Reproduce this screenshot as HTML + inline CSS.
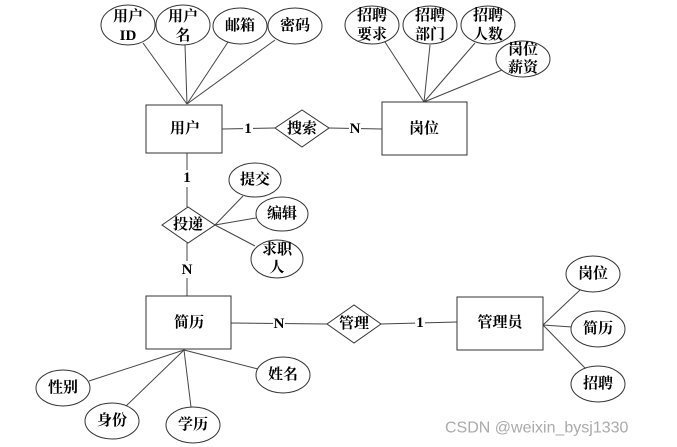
<!DOCTYPE html>
<html><head><meta charset="utf-8"><style>
html,body{margin:0;padding:0;background:#fff;}
svg{display:block;}
text{font-family:"Liberation Serif","Noto Serif CJK SC","Noto Sans CJK SC",serif;font-weight:bold;font-size:15px;fill:#000;text-anchor:middle;dominant-baseline:central;}
.w{font-family:"Liberation Sans",sans-serif;font-weight:normal;font-size:16px;fill:#aaa;text-anchor:start;}
</style></head><body>
<svg width="677" height="447" viewBox="0 0 677 447" xmlns="http://www.w3.org/2000/svg">
<g stroke="#444" stroke-width="1" fill="none">
<line x1="187" y1="104" x2="143" y2="43"/><line x1="187" y1="104" x2="185" y2="45"/><line x1="187" y1="104" x2="228" y2="42"/><line x1="187" y1="104" x2="275" y2="40"/>
<line x1="424" y1="102" x2="385" y2="42"/><line x1="424" y1="102" x2="430" y2="45"/><line x1="424" y1="102" x2="475" y2="43"/><line x1="424" y1="102" x2="502" y2="70"/>
<line x1="222" y1="129" x2="275" y2="128"/><line x1="329" y1="128" x2="382" y2="129"/>
<line x1="187" y1="153" x2="187" y2="207"/><line x1="187" y1="243" x2="187" y2="296"/>
<line x1="215" y1="225" x2="243" y2="196"/><line x1="215" y1="225" x2="256" y2="218"/><line x1="215" y1="225" x2="255" y2="246"/>
<line x1="231" y1="323" x2="327" y2="324"/><line x1="381" y1="324" x2="457" y2="322"/>
<line x1="543" y1="325" x2="580" y2="290"/><line x1="543" y1="325" x2="572" y2="327"/><line x1="543" y1="325" x2="585" y2="368"/>
<line x1="184" y1="350" x2="89" y2="381"/><line x1="184" y1="350" x2="125" y2="407"/><line x1="184" y1="350" x2="191" y2="407"/><line x1="184" y1="350" x2="258" y2="369"/>
</g>
<g stroke="#333" stroke-width="1" fill="#fff">
<rect x="146" y="105" width="76" height="48"/>
<rect x="382" y="102" width="85" height="53"/>
<rect x="146" y="296" width="85" height="53"/>
<rect x="457" y="297" width="86" height="53"/>
<polygon points="275,128 302,110 329,128 302,147"/>
<polygon points="162,225 188,207 215,225 188,243"/>
<polygon points="327,324 354,305 381,324 354,343"/>
<ellipse cx="128" cy="25" rx="27" ry="20"/><ellipse cx="183" cy="25" rx="27" ry="20"/><ellipse cx="240" cy="26" rx="27" ry="18"/><ellipse cx="295" cy="26" rx="27" ry="18"/>
<ellipse cx="372" cy="25" rx="27" ry="19"/><ellipse cx="430" cy="25" rx="27" ry="19"/><ellipse cx="488" cy="25" rx="27" ry="19"/><ellipse cx="523" cy="59" rx="27" ry="18"/>
<ellipse cx="255" cy="180" rx="26" ry="17"/><ellipse cx="282" cy="214" rx="26" ry="17"/><ellipse cx="277" cy="259" rx="26" ry="19"/>
<ellipse cx="593" cy="274" rx="27" ry="18"/><ellipse cx="598" cy="329" rx="27" ry="18"/><ellipse cx="598" cy="384" rx="27" ry="18"/>
<ellipse cx="63" cy="388" rx="27" ry="18"/><ellipse cx="112" cy="421" rx="27" ry="18"/><ellipse cx="193" cy="425" rx="27" ry="18"/><ellipse cx="283" cy="375" rx="27" ry="18"/>
</g>
<g>
<text x="128" y="17">用户</text><text x="128" y="36">ID</text>
<text x="183" y="17">用户</text><text x="183" y="36">名</text>
<text x="240" y="26">邮箱</text><text x="295" y="26">密码</text>
<text x="372" y="16">招聘</text><text x="372" y="35">要求</text>
<text x="430" y="16">招聘</text><text x="430" y="35">部门</text>
<text x="488" y="16">招聘</text><text x="488" y="35">人数</text>
<text x="523" y="50">岗位</text><text x="523" y="68">薪资</text>
<text x="185" y="129">用户</text><text x="424" y="129">岗位</text>
<text x="302" y="129">搜索</text>
<text x="248" y="128" style="fill:#fff;stroke:none"> </text>
<text x="188" y="225">投递</text>
<text x="255" y="180">提交</text><text x="282" y="214">编辑</text>
<text x="277" y="250">求职</text><text x="277" y="268">人</text>
<text x="189" y="323">简历</text><text x="354" y="324">管理</text><text x="500" y="323">管理员</text>
<text x="593" y="274">岗位</text><text x="598" y="329">简历</text><text x="598" y="384">招聘</text>
<text x="63" y="388">性别</text><text x="112" y="421">身份</text><text x="193" y="425">学历</text><text x="283" y="375">姓名</text>
</g>
<g>
<rect x="243" y="120" width="10" height="17" fill="#fff"/><text x="248" y="129">1</text>
<rect x="349" y="120" width="12" height="17" fill="#fff"/><text x="355" y="129">N</text>
<rect x="182" y="170" width="10" height="17" fill="#fff"/><text x="187" y="178">1</text>
<rect x="181" y="261" width="12" height="17" fill="#fff"/><text x="187" y="270">N</text>
<rect x="273" y="315" width="12" height="17" fill="#fff"/><text x="279" y="324">N</text>
<rect x="415" y="314" width="10" height="17" fill="#fff"/><text x="420" y="323">1</text>
</g>
<text class="w" x="445" y="428">CSDN @weixin_bysj1330</text>
</svg>
</body></html>
